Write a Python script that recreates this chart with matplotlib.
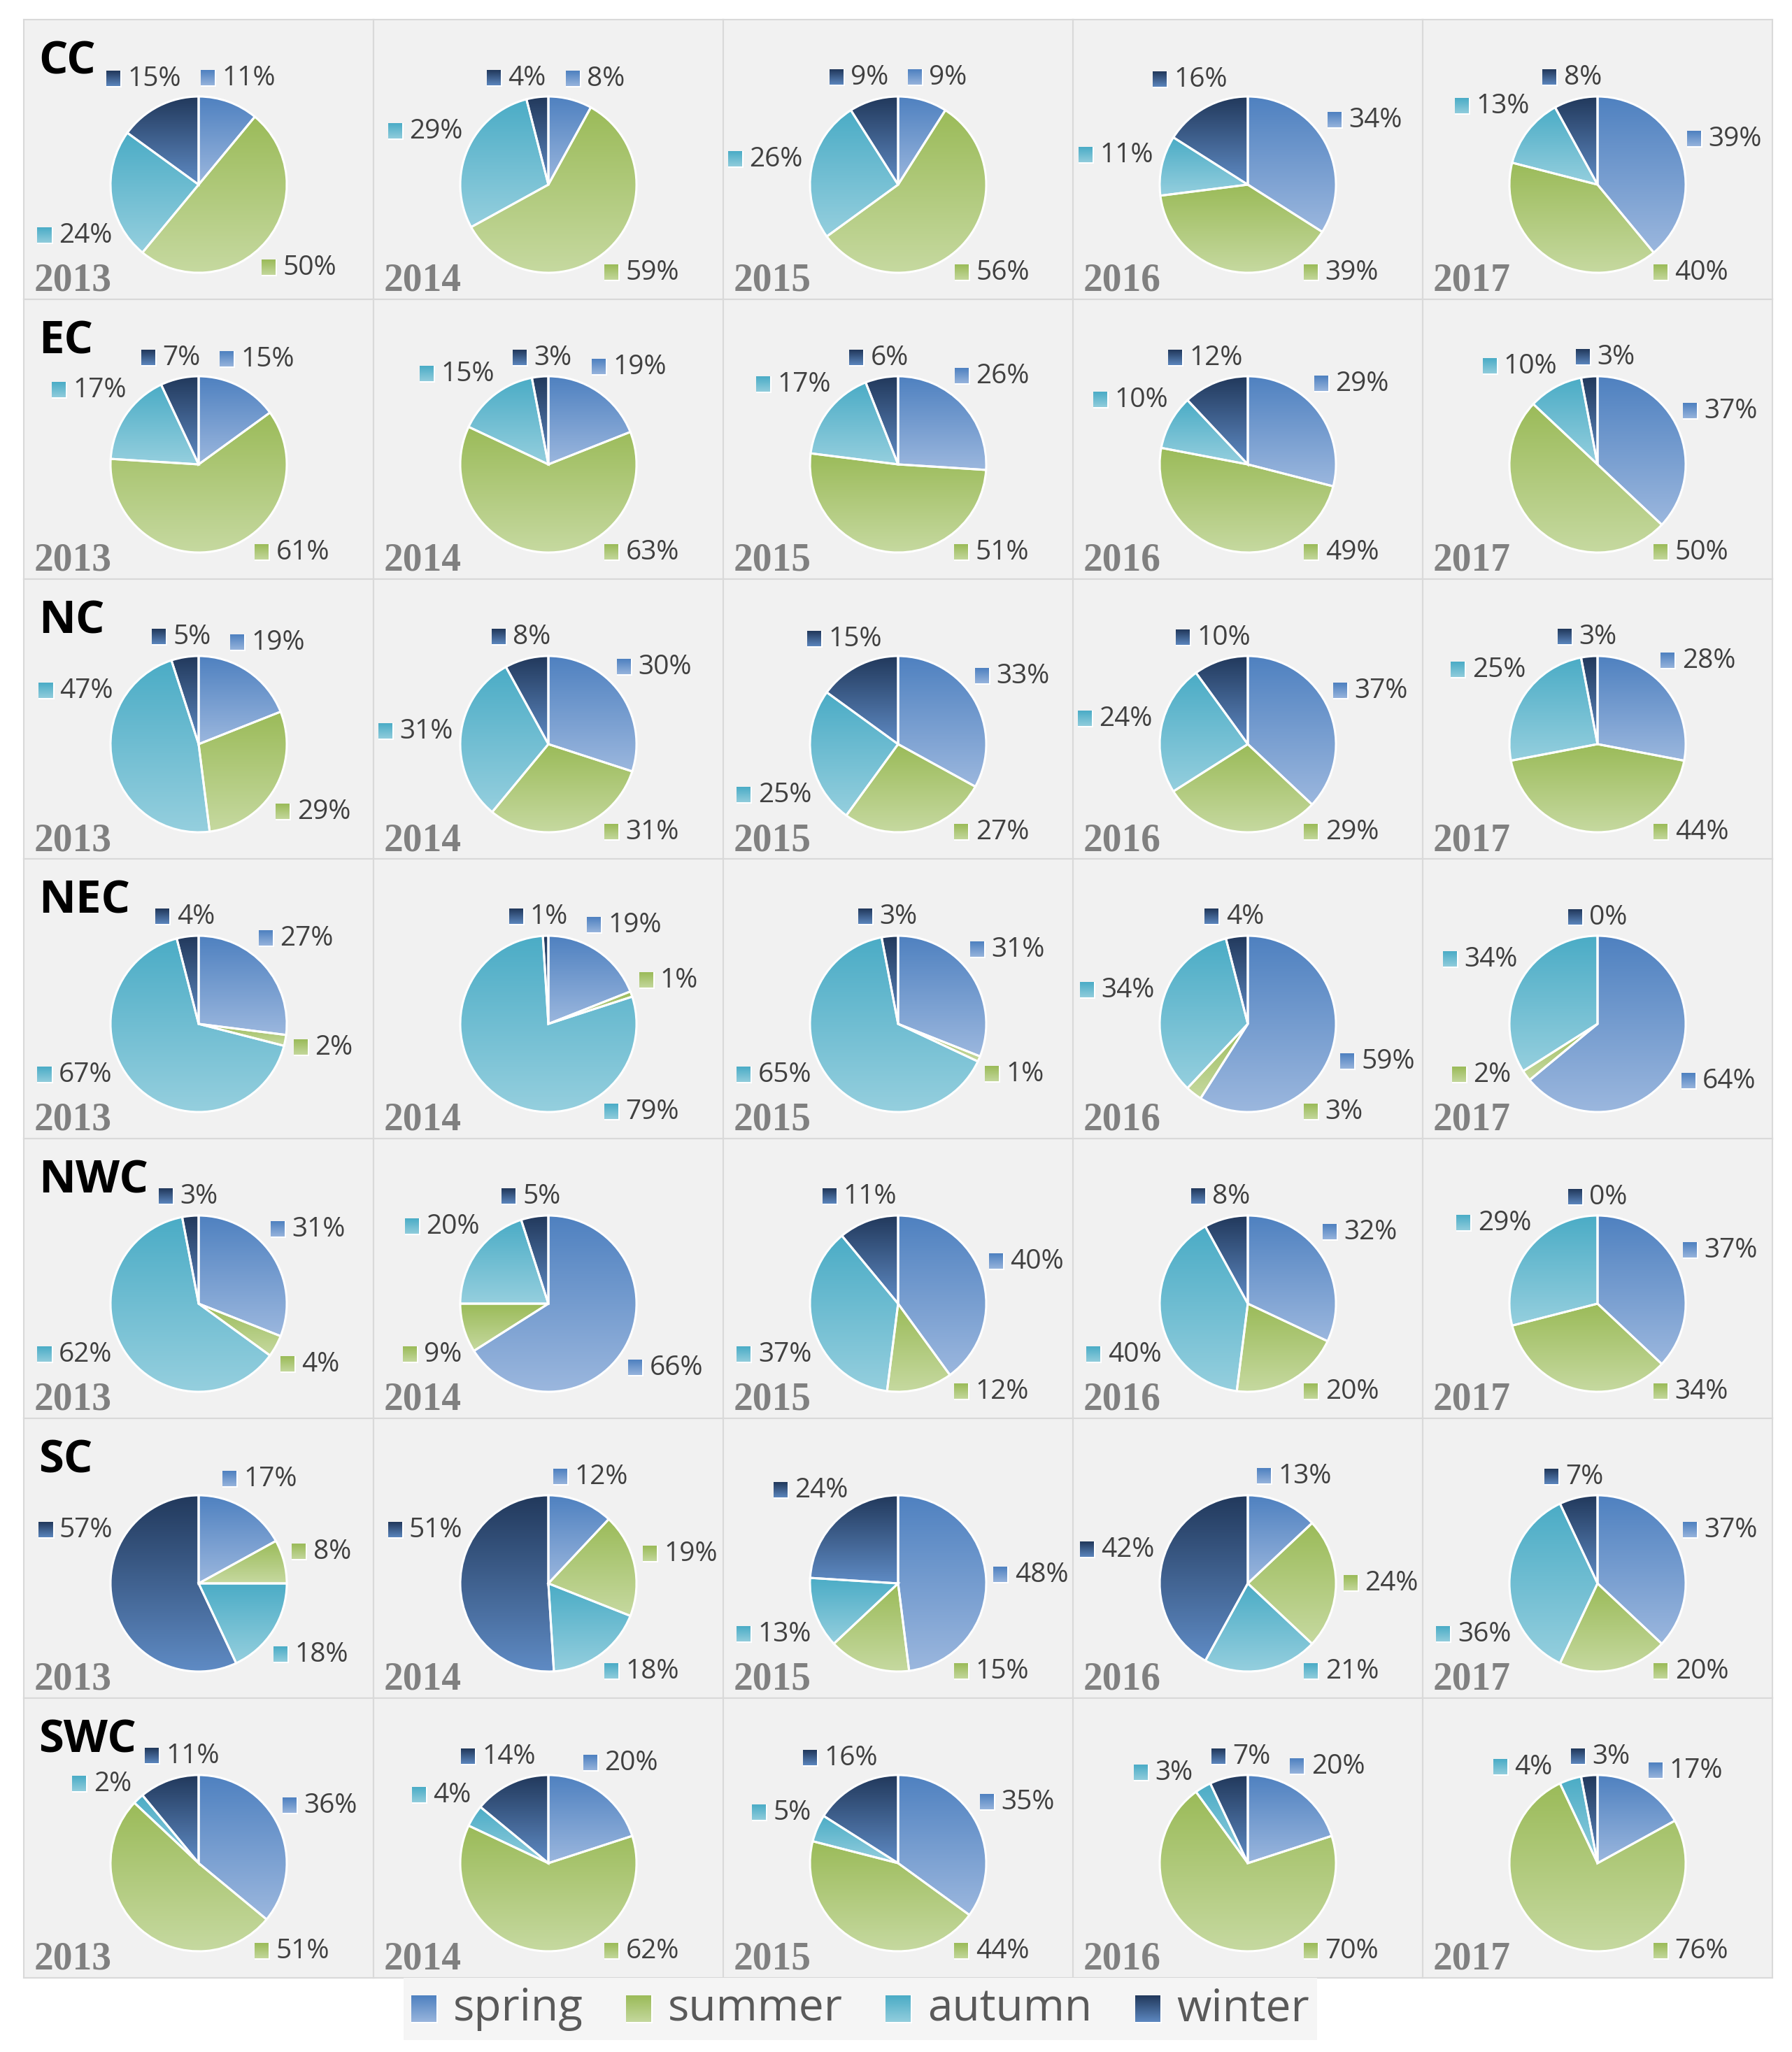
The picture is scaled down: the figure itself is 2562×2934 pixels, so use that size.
import numpy as np
import matplotlib
matplotlib.use('Agg')
import matplotlib.pyplot as plt
from matplotlib.offsetbox import OffsetImage, TextArea, HPacker, AnnotationBbox

# ---- data (percent of each season, rows = region, cols = year) ----
regions = ['CC', 'EC', 'NC', 'NEC', 'NWC', 'SC', 'SWC']
years = ['2013', '2014', '2015', '2016', '2017']
seasons = ['spring', 'summer', 'autumn', 'winter']

spring = [[11, 8, 9, 34, 39], [15, 19, 26, 29, 37], [19, 30, 33, 37, 28],
          [27, 19, 31, 59, 64], [31, 66, 40, 32, 37], [17, 12, 48, 13, 37],
          [36, 20, 35, 20, 17]]
summer = [[50, 59, 56, 39, 40], [61, 63, 51, 49, 50], [29, 31, 27, 29, 44],
          [2, 1, 1, 3, 2], [4, 9, 12, 20, 34], [8, 19, 15, 24, 20],
          [51, 62, 44, 70, 76]]
autumn = [[24, 29, 26, 11, 13], [17, 15, 17, 10, 10], [47, 31, 25, 24, 25],
          [67, 79, 65, 34, 34], [62, 20, 37, 40, 29], [18, 18, 13, 21, 36],
          [2, 4, 5, 3, 4]]
winter = [[15, 4, 9, 16, 8], [7, 3, 6, 12, 3], [5, 8, 15, 10, 3],
          [4, 1, 3, 4, 0], [3, 5, 11, 8, 0], [57, 51, 24, 42, 7],
          [11, 14, 16, 7, 3]]

# gradient colours (top, bottom) per season
top_cols = ['#4f81c0', '#9bbb59', '#4bacc6', '#22395c']
bot_cols = ['#9bb7de', '#c6d9a0', '#95cfde', '#5f8bc4']

W, H = 2562, 2934
fig = plt.figure(figsize=(W / 100, H / 100), dpi=100)
fig.patch.set_facecolor('white')

X0, PW = 34, 500       # panel grid (pixels)
Y0, PH = 28, 400
PXR = 126              # pie radius in pixels
CY = 236               # pie centre from panel top
XL = (PW / 2) / PXR
YT = CY / PXR
YB = -(PH - CY) / PXR

LAB_PT = 28
LAB_PX = LAB_PT * 100 / 72
R_CLEAR = 1.08
SANS = ['Open Sans', 'DejaVu Sans']
REG_PT = 47


def rgb(h):
    return np.array(matplotlib.colors.to_rgb(h))


def swatch(i, w, h):
    t = np.linspace(0, 1, h)[:, None, None]
    arr = rgb(top_cols[i]) * (1 - t) + rgb(bot_cols[i]) * t
    arr = np.repeat(arr, w, axis=1)
    arr[:, -2:, :] = 1.0
    arr[-2:, :, :] = 1.0
    return OffsetImage(arr, zoom=1, dpi_cor=False)


def box_size(txt):
    tw = LAB_PX * (0.572 * (len(txt) - 1) + 0.817)
    return (22 + 9 + tw) / PXR, 32 / PXR


def clear_x(cy, w, h, side):
    ey = max(abs(cy) - h / 2, 0)
    ex = np.sqrt(R_CLEAR ** 2 - ey ** 2) if ey < R_CLEAR else 0.0
    return side * (ex + w / 2)


def label_pos(mode, p, w, h):
    if mode == 'angle':
        c, s = np.cos(np.radians(p)), np.sin(np.radians(p))
        for D in np.arange(0.5, 3.0, 0.01):
            cx, cy = D * c, D * s
            dx = max(abs(cx) - w / 2, 0)
            dy = max(abs(cy) - h / 2, 0)
            if np.hypot(dx, dy) >= R_CLEAR:
                break
        cy = max(min(cy, 1.40), -1.0)
        side = 1 if cx >= 0 else -1
        need = clear_x(cy, w, h, side)
        if abs(cx) < abs(need) and abs(cy) - h / 2 < R_CLEAR:
            cx = need
    else:
        cy = p
        cx = clear_x(cy, w, h, -1)
    lim = XL - w / 2 - 0.05
    cx = min(max(cx, -lim), lim)
    return cx, cy


def overlap(a, sa, b, sb, mx=0.2, my=0.06):
    return (abs(a[0] - b[0]) < (sa[0] + sb[0]) / 2 + mx and
            abs(a[1] - b[1]) < (sa[1] + sb[1]) / 2 + my)


def place_labels(vals, texts, obstacle=None):
    fr = np.array(vals, float) / sum(vals)
    cum = np.concatenate([[0], np.cumsum(fr)])
    mids = 90 - 360 * (cum[:-1] + fr / 2)
    modes, prm = [], []
    for k, th in enumerate(mids):
        th = (th + 180) % 360 - 180
        if -134 < th < -50:
            modes.append('angle'); prm.append(-50.0)
        elif -160 <= th <= -134:
            modes.append('fixed'); prm.append(-0.58)
        elif th < -160 or th > 175:
            modes.append('fixed'); prm.append(0.6 if fr[k] > 0.4 else -0.58)
        else:
            modes.append('angle'); prm.append(th)
    sz = [box_size(t) for t in texts]
    n = len(vals)
    for it in range(600):
        cs = [label_pos(modes[k], prm[k], *sz[k]) for k in range(n)]
        moved = False
        for i in range(n):
            for j in range(i + 1, n):
                if overlap(cs[i], sz[i], cs[j], sz[j]):
                    moved = True
                    up_i = cs[i][1] >= cs[j][1]
                    if modes[i] == 'angle' and modes[j] == 'angle':
                        d = (prm[i] - prm[j] + 180) % 360 - 180
                        sg = 1 if d >= 0 else -1
                        prm[i] += sg * 0.5
                        prm[j] -= sg * 0.5
                    else:
                        for k, up in ((i, up_i), (j, not up_i)):
                            if modes[k] == 'fixed':
                                prm[k] += 0.02 if up else -0.02
                            else:
                                prm[k] += 0.5 if (up == (cs[k][0] < 0)) else -0.5
            if obstacle is not None:
                oc, osz = obstacle
                if overlap(cs[i], sz[i], oc, osz, 0.05, 0.0):
                    moved = True
                    if modes[i] == 'angle':
                        prm[i] -= 0.5
                    else:
                        prm[i] -= 0.02
        if not moved:
            break
    return [label_pos(modes[k], prm[k], *sz[k]) for k in range(n)]


for r, reg in enumerate(regions):
    for c, yr in enumerate(years):
        vals = [spring[r][c], summer[r][c], autumn[r][c], winter[r][c]]
        left = (X0 + c * PW) / W
        bottom = 1 - (Y0 + (r + 1) * PH) / H
        ax = fig.add_axes([left, bottom, PW / W, PH / H])
        wedges, _ = ax.pie(vals, startangle=90, counterclock=False, radius=1,
                           colors=top_cols,
                           wedgeprops=dict(edgecolor='white', linewidth=2.2))
        for k, wd in enumerate(wedges):
            if vals[k] == 0:
                continue
            bb = wd.get_path().get_extents()
            t = np.linspace(0, 1, 128)[:, None, None]
            g = rgb(top_cols[k]) * (1 - t) + rgb(bot_cols[k]) * t
            im = ax.imshow(g, extent=(bb.x0, bb.x1, bb.y0, bb.y1), origin='upper',
                           aspect='auto', interpolation='bilinear', zorder=1)
            im.set_clip_path(wd)
            wd.set_facecolor('none')
            wd.set_zorder(2)

        obstacle = None
        if c == 0:
            ax.text(0.042, 0.806, reg, transform=ax.transAxes, fontsize=REG_PT,
                    fontweight='bold', color='black', family=SANS,
                    va='baseline', zorder=4)
            rw = len(reg) * 0.68 * REG_PT * 100 / 72 / PXR
            x_l = -XL + 21 / PXR
            obstacle = ((x_l + rw / 2, (CY - 55) / PXR), (rw, 50 / PXR))

        texts = ['%d%%' % v for v in vals]
        pos = place_labels(vals, texts, obstacle)
        for k, (lx, ly) in enumerate(pos):
            ta = TextArea(texts[k], textprops=dict(fontsize=LAB_PT, color='#404040',
                                                   family=SANS))
            pk = HPacker(children=[swatch(k, 22, 24), ta], sep=6, pad=0,
                         align='center')
            ab = AnnotationBbox(pk, (lx, ly), xycoords='data', frameon=False,
                                box_alignment=(0.5, 0.5), pad=0, zorder=5)
            ax.add_artist(ab)

        ax.text(0.03, 0.03, yr, transform=ax.transAxes, fontsize=40,
                fontweight='bold', color='#808080',
                family=['Liberation Serif', 'DejaVu Serif'], va='baseline', zorder=4)

        ax.set_aspect('auto')
        ax.set_xlim(-XL, XL)
        ax.set_ylim(YB, YT)
        ax.set_frame_on(True)
        ax.set_facecolor('#f1f1f1')
        for sp in ax.spines.values():
            sp.set_color('#d9d9d9')
            sp.set_linewidth(1.5)
        ax.set_xticks([])
        ax.set_yticks([])

# ---- legend ----
lax = fig.add_axes([577 / W, 1 - 2917 / H, (1883 - 577) / W, (2917 - 2828) / H])
lax.set_facecolor('#f5f5f5')
for sp in lax.spines.values():
    sp.set_visible(False)
lax.set_xticks([])
lax.set_yticks([])
items = []
for k, s in enumerate(seasons):
    ta = TextArea(s, textprops=dict(fontsize=46, color='#595959', family=SANS))
    items.append(HPacker(children=[swatch(k, 38, 40), ta], sep=16, pad=0,
                         align='center'))
leg = HPacker(children=items, sep=44, pad=0, align='center')
lax.add_artist(AnnotationBbox(leg, (0.5, 0.5), xycoords='axes fraction',
                              frameon=False, box_alignment=(0.5, 0.5), pad=0))

fig.savefig('out.png', dpi=100)
